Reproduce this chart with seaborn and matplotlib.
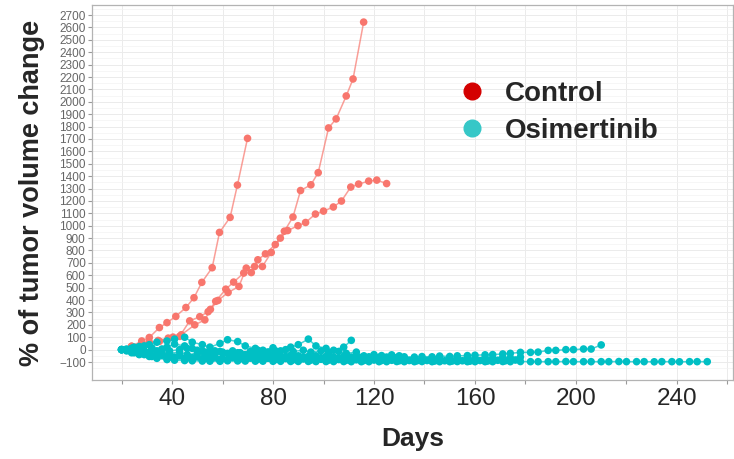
import matplotlib
matplotlib.use('Agg')
import matplotlib.pyplot as plt
from matplotlib.lines import Line2D
from matplotlib.ticker import MultipleLocator, FixedLocator, FuncFormatter
import numpy as np
import pandas as pd
import seaborn as sns

########
# Data #
########

# control mice (irregular measurement days)
ctrl_a_days = [24, 28, 31, 35, 38, 41.5, 45.5, 48.7, 51.8, 55.9, 58.8, 63, 65.9, 69.9]
ctrl_a_vals = [27, 70, 98, 178, 218, 268, 340, 419, 543, 661, 946, 1067, 1328, 1705]

ctrl_b_days = [34.5, 38.5, 43, 47, 51, 54.3, 57.3, 61.3, 64.4, 68.4, 71.4, 74, 77, 80.9,
               84.5, 87.9, 90.9, 95, 97.9, 102, 105, 109, 111.7, 115.9]
ctrl_b_vals = [74, 93, 107, 232, 266, 306, 390, 488, 545, 618, 622, 725, 773, 848,
               956, 1070, 1284, 1330, 1428, 1789, 1862, 2047, 2184, 2643]

ctrl_c_days = [24, 28, 31, 35, 40.4, 43.7, 49, 53, 55.2, 58.2, 62.2, 66.5, 69.4, 72.7,
               75.8, 79.3, 82.9, 85.8, 89.9, 92.9, 96.8, 100, 103.9, 107.1, 110.8,
               113.9, 117.9, 121.1, 125]
ctrl_c_vals = [27, 50, 60, 67, 101, 120, 200, 240, 325, 397, 461, 510, 658, 671,
               671, 784, 900, 961, 1000, 1026, 1094, 1118, 1151, 1199, 1312,
               1336, 1360, 1368, 1340]

# osimertinib mice: two measurement schedules
days_a = [20, 24, 27, 31, 34, 38, 41, 45, 48, 52,
          55, 59, 62, 66, 69, 73, 76, 80, 83, 87,
          90, 94, 97, 101, 104, 108, 111, 115, 118, 122,
          125, 129, 132, 136, 139, 143, 146, 150, 153, 157,
          160, 164, 167, 171, 174, 178, 182, 185, 189, 192,
          196, 199, 203, 206, 210, 213, 217, 220, 224, 227,
          231, 234, 238, 241, 245, 248, 252]
days_b = [22, 25, 29, 32, 36, 39, 43, 46, 50, 53,
          57, 60, 64, 67, 71, 74, 78, 81, 85, 88,
          92, 95, 99, 102, 106, 109, 113, 116, 120, 123,
          127, 130, 134, 137, 141, 144, 148, 151, 155, 158,
          162, 165, 169, 172, 176]

osi_1 = [0, -15, -30, -45, -55, -62, -70, -75, -80, -84,
         -86, -88, -90, -91, -92, -93, -93, -94, -94, -95,
         -95, -95, -96, -96, -96, -96, -97, -97, -97, -97,
         -97, -96, -97, -97, -96, -97, -97, -97, -96, -97,
         -97, -97, -97, -96, -97, -96, -97, -97, -97, -97,
         -96, -97, -97, -97, -97, -97, -96, -97, -97, -97,
         -98, -97, -97, -98, -97, -97, -97]
osi_2 = [0, 10, -5, -20, -10, 20, 45, 30, 10, -10,
         -20, -15, -30, -25, -40, -35, -45, -40, -50, -45,
         -50, -55, -50, -55, -60, -55, -60, -62, -58, -62,
         -60, -64, -58, -60, -56, -58, -52, -55, -50, -48,
         -45, -42, -40, -35, -30, -22,
         -22, -20, -6, -6, 0, 0, 5, 5, 38]
osi_3 = [0, -20, -35, -25, -40, -55, -60, -70, -65, -75,
         -70, -78, -80, -75, -82, -80, -85, -82, -86, -84,
         -88, -85, -88, -86, -89, -87, -90, -78, -80, -76,
         -80, -74, -78, -72, -76, -70, -74, -68, -72, -66,
         -70, -64, -68, -62, -66, -60]
osi_4 = [-5, -25, -40, -55, -45, -60, -50, -65, -55, -70,
         -60, -72, -65, -75, -68, -78, -70, -80, -72, -82,
         -75, -84, -78, -85, -80, -86, -82, -88, -84, -88,
         -86, -90, -88, -90, -88, -92, -90, -92, -90, -93,
         -88, -92, -86, -90, -84]
osi_5 = [0, 10, 25, 40, 60, 70, 85, 100, 60, 40,
         20, 50, 80, 65, 30, 10, -5, 15, -10, 20,
         40, 85, 30, 10, -5, 20, 75]
osi_6 = [-10, -20, -10, 0, -15, -30, -20, -40, -30, -45,
         -35, -20, -10, -25, -15, -5, -20, -10, 0, -15,
         -5, -20, -10, -25, -15, -30, -20]
osi_7 = [0, -25, -40, -55, -70, -80, -85, -88, -90, -92, -93, -94]
osi_8 = [5, 20, 30, 15, 5, -10, 0, 10, -5, -20,
         -10, -25, -40, -30, -45, -35, -50, -40, -55, -45,
         -60, -50, -65, -55, -70, -60, -45, -50, -40, -48,
         -42, -50]

groups = ['Control', 'Osimertinib']

rows = []
for name, d, v in [('C1', ctrl_a_days, ctrl_a_vals), ('C2', ctrl_b_days, ctrl_b_vals),
                   ('C3', ctrl_c_days, ctrl_c_vals)]:
    for di, vi in zip(d, v):
        rows.append((name, 'Control', di, vi))
for name, d, v in [('O1', days_a, osi_1), ('O2', days_a, osi_2), ('O3', days_a, osi_3),
                   ('O4', days_b, osi_4), ('O5', days_a, osi_5), ('O6', days_b, osi_6),
                   ('O7', days_a, osi_7), ('O8', days_b, osi_8)]:
    for di, vi in zip(d[:len(v)], v):
        rows.append((name, 'Osimertinib', di, vi))
df = pd.DataFrame(rows, columns=['Mouse', 'Group', 'Days', 'Change'])

########
# Plot #
########

sns.set_theme(style='white')
plt.rcParams['font.family'] = ['Liberation Sans', 'DejaVu Sans']

palette = {'Control': '#f8766d', 'Osimertinib': '#00bfc4'}

fig = plt.figure(figsize=(7.34, 4.59), dpi=100)
ax = fig.add_axes([92 / 734, 1 - 380 / 459, 641 / 734, 375 / 459])

sns.lineplot(data=df, x='Days', y='Change', hue='Group', units='Mouse', estimator=None,
             palette=palette, linewidth=1.1, alpha=0.7, legend=False, ax=ax, sort=False)
sns.scatterplot(data=df, x='Days', y='Change', hue='Group', palette=palette, s=30,
                linewidth=0, legend=False, ax=ax, zorder=3)

ax.set_xlim(8.3, 262.2)
ax.set_ylim(-245, 2781)

# ticks every 20 days, labels only every 40
ax.xaxis.set_major_locator(MultipleLocator(20))
ax.xaxis.set_major_formatter(FuncFormatter(lambda t, p: '%d' % t if round(t) % 40 == 0 else ''))
ax.yaxis.set_major_locator(FixedLocator(np.arange(-100, 2701, 100)))
ax.yaxis.set_minor_locator(FixedLocator(np.arange(-150, 2751, 100)))

ax.grid(which='major', color='#ebebeb', linewidth=0.7)
ax.grid(which='minor', axis='y', color='#f3f3f3', linewidth=0.5)
ax.set_axisbelow(True)

ax.tick_params(axis='x', labelsize=17.5, labelcolor='#262626', length=3, color='#999999',
               width=0.8, pad=3, bottom=True)
ax.tick_params(axis='y', labelsize=8.5, labelcolor='#666666', length=3, color='#999999',
               width=0.8, pad=1.5, left=True)
ax.tick_params(axis='y', which='minor', left=False)

for side in ['top', 'left', 'right', 'bottom']:
    ax.spines[side].set_color('#b3b3b3')
    ax.spines[side].set_linewidth(0.9)

ax.set_xlabel('Days', fontsize=19, fontweight='bold', labelpad=12)
ax.set_ylabel('% of tumor volume change', fontsize=19.5, fontweight='bold', labelpad=10)

handles = [Line2D([], [], marker='o', linestyle='', markersize=12, color='#d40000'),
           Line2D([], [], marker='o', linestyle='', markersize=12, color='#36c7c7')]
ax.legend(handles, groups, loc='upper left', bbox_to_anchor=(430 / 734, 1 - 56 / 459),
          bbox_transform=fig.transFigure, frameon=False,
          prop={'size': 20, 'weight': 'bold'}, handletextpad=0.6, labelspacing=0.4,
          handlelength=1.2)

fig.savefig('out.png', dpi=100)
